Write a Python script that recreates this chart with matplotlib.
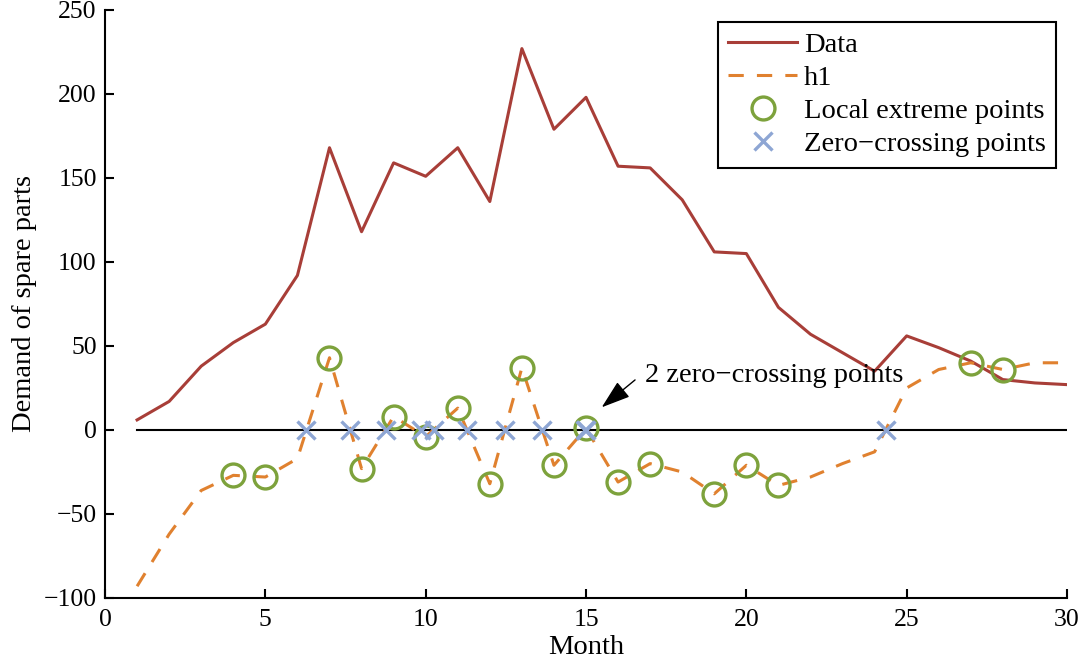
import numpy as np
import matplotlib
matplotlib.use("Agg")
import matplotlib.pyplot as plt

plt.rcParams['font.family'] = ['Liberation Serif', 'DejaVu Serif']

# monthly demand (raw data)
months = np.arange(1, 31)
demand = [6, 17, 38, 52, 63, 92, 168, 118, 159, 151,
          168, 136, 227, 179, 198, 157, 156, 137, 106, 105,
          73, 57, 46, 35, 56, 49, 41, 30, 28, 27]

# first component h1
h1 = [-93, -62, -36, -27, -28, -17, 43, -23, 8, -4,
      13, -32, 37, -21, 1, -31, -20, -25, -38, -21,
      -33, -28, -20, -13, 25, 36, 40, 36, 40, 40]

# local extremes of h1 (months)
extreme_months = [4, 5, 7, 8, 9, 10, 11, 12, 13, 14, 15, 16, 17, 19, 20, 21, 27, 28]
# zero crossings of h1
zero_x = [6.27, 7.64, 8.75, 9.85, 10.25, 11.28, 12.47, 13.62, 14.97, 15.0, 24.35]

red = '#A83E38'
orange = '#E0812F'
green = '#7DA23C'
blue = '#8EA6D4'

fig = plt.figure(figsize=(10.85, 6.64), dpi=100)
ax = fig.add_axes([0.0968, 0.0994, 0.8866, 0.8856])

ax.plot([1, 30], [0, 0], color='black', lw=1.5, zorder=1)
ax.plot(months, demand, color=red, lw=2.2, label='Data', zorder=2)
ax.plot(months, h1, color=orange, lw=2.2, ls=(0, (5, 4.3)), label='h1', zorder=2)

ext_vals = [h1[m - 1] for m in extreme_months]
ax.plot(extreme_months, ext_vals, ls='none', marker='o', ms=16.5, mfc='none',
        mec=green, mew=2.4, label='Local extreme points', zorder=3)
ax.plot(zero_x, np.zeros(len(zero_x)), ls='none', marker='x', ms=13,
        mec=blue, mew=2.4, label='Zero\u2212crossing points', zorder=4)

# annotation: arrow and text drawn separately
ax.annotate('', xy=(15.49, 13.5), xytext=(16.53, 29.8),
            arrowprops=dict(arrowstyle='-|>,head_length=0.9,head_width=0.3',
                            color='black', lw=1.0, shrinkA=0, shrinkB=0,
                            mutation_scale=20))
ax.text(16.84, 28.5, '2 zero\u2212crossing points', fontsize=20.5,
        ha='left', va='baseline')

ax.set_xlim(0, 30)
ax.set_ylim(-100, 250)
ax.set_xticks(range(0, 31, 5))
ax.set_yticks(range(-100, 251, 50))
ax.spines['top'].set_visible(False)
ax.spines['right'].set_visible(False)
for s in ['left', 'bottom']:
    ax.spines[s].set_linewidth(1.5)
ax.tick_params(direction='in', length=6.5, width=1.5, labelsize=18.5)
ax.tick_params(axis='x', pad=8)
ax.tick_params(axis='y', pad=6)

ax.set_xlabel('Month', fontsize=20.5, labelpad=3)
ax.set_ylabel('Demand of spare parts', fontsize=20.5, labelpad=5)

leg = ax.legend(loc='upper right', bbox_to_anchor=(0.9886, 0.9796), fontsize=20.5,
                frameon=True, fancybox=False, framealpha=1, edgecolor='black',
                handlelength=2.4, handletextpad=0.25, labelspacing=0.25,
                borderpad=0.36, borderaxespad=0)
leg.get_frame().set_linewidth(1.5)

fig.savefig('out.png', dpi=100)
